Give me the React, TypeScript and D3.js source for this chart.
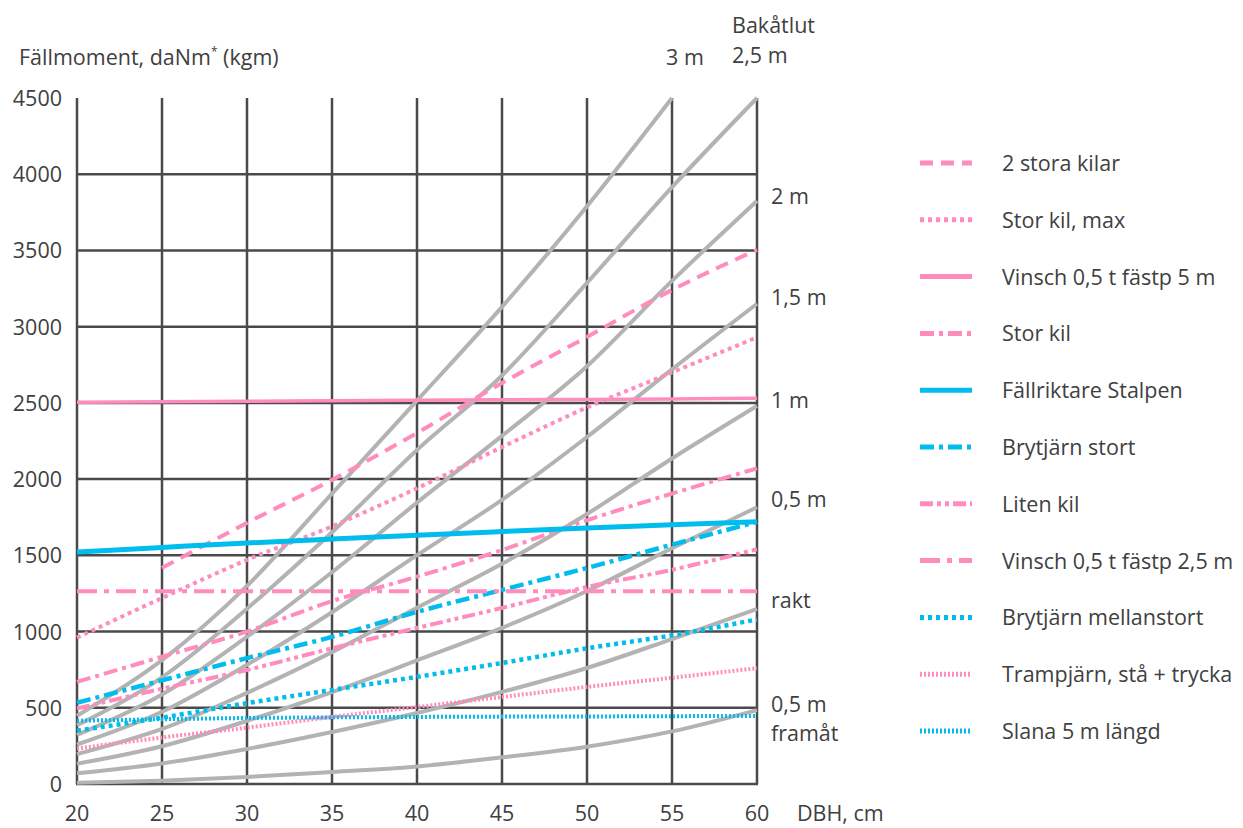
import React, { useEffect, useRef } from 'react';
import * as d3 from 'd3';

// DBH, cm
const dbh = [20, 25, 30, 35, 40, 45, 50, 55, 60];
const yTicks = [0, 500, 1000, 1500, 2000, 2500, 3000, 3500, 4000, 4500];

// grey curves: fällmoment för olika bakåtlut
const lutFramat05 = [8, 22, 46, 79, 115, 175, 245, 345, 485];
const lutRakt = [70, 135, 230, 341, 466, 604, 761, 951, 1148];
const lut05 = [133, 248, 414, 603, 811, 1024, 1266, 1546, 1815];
const lut10 = [196, 361, 598, 865, 1156, 1444, 1771, 2135, 2480];
const lut15 = [259, 474, 782, 1127, 1501, 1864, 2276, 2720, 3150];
const lut20 = [322, 587, 966, 1389, 1846, 2284, 2740, 3300, 3825];
const lut25 = [385, 700, 1150, 1651, 2191, 2680, 3287, 3915, 4500];
const lut30 = [448, 813, 1300, 1905, 2515, 3130, 3790, 4500];

// hjälpmedel
const tvaStoraKilar = [null, 1417, 1713, 1995, 2303, 2631, 2933, 3241, 3504];
const storKilMax = [960, 1220, 1470, 1690, 1940, 2210, 2470, 2700, 2930];
const vinsch5m = [2505, 2508, 2511, 2514, 2517, 2520, 2523, 2526, 2530];
const storKil = [670, 835, 1000, 1200, 1360, 1535, 1730, 1905, 2070];
const stalpen = [1522, 1552, 1581, 1607, 1632, 1656, 1680, 1700, 1720];
const brytjarnStort = [533, 680, 826, 965, 1129, 1273, 1417, 1570, 1720];
const litenKil = [495, 625, 748, 890, 1024, 1155, 1293, 1405, 1540];
const vinsch25m = [1265, 1265, 1265, 1265, 1265, 1265, 1265, 1265, 1265];
const brytjarnMellan = [350, 435, 530, 617, 703, 794, 890, 975, 1080];
const trampjarn = [233, 305, 370, 440, 505, 571, 637, 697, 760];
const slana = [415, 425, 433, 437, 440, 442, 443, 445, 446];

const greyCurves = [lutFramat05, lutRakt, lut05, lut10, lut15, lut20, lut25, lut30];

const PINK = '#ff8cbd';
const BLUE = '#00bdee';
const GREY = '#b3b3b3';
const GRID = '#4a4a4a';
const TEXT = '#404040';

const series = [
  { name: '2 stora kilar', values: tvaStoraKilar, color: PINK, dash: '13,8', width: 4 },
  { name: 'Stor kil, max', values: storKilMax, color: PINK, dash: '4,4', width: 4 },
  { name: 'Vinsch 0,5 t fästp 5 m', values: vinsch5m, color: PINK, dash: null, width: 3.5 },
  { name: 'Stor kil', values: storKil, color: PINK, dash: '14,5,4,5', width: 4 },
  { name: 'Fällriktare Stalpen', values: stalpen, color: BLUE, dash: null, width: 5 },
  { name: 'Brytjärn stort', values: brytjarnStort, color: BLUE, dash: '14,5,4,5', width: 4.5 },
  { name: 'Liten kil', values: litenKil, color: PINK, dash: '13,4,4,4,4,4', width: 4 },
  { name: 'Vinsch 0,5 t fästp 2,5 m', values: vinsch25m, color: PINK, dash: '20,7,5,7', width: 4 },
  { name: 'Brytjärn mellanstort', values: brytjarnMellan, color: BLUE, dash: '4,4', width: 4.5 },
  { name: 'Trampjärn, stå + trycka', values: trampjarn, color: PINK, dash: '2,2', width: 4 },
  { name: 'Slana 5 m längd', values: slana, color: BLUE, dash: '2,2', width: 4 },
];

const rightLabels = [
  { text: '2 m', y: 204 },
  { text: '1,5 m', y: 305 },
  { text: '1 m', y: 408 },
  { text: '0,5 m', y: 507 },
  { text: 'rakt', y: 608 },
  { text: '0,5 m', y: 712 },
  { text: 'framåt', y: 741 },
];

const App = () => {
  const svgRef = useRef(null);

  useEffect(() => {
    const svg = d3.select(svgRef.current);
    svg.selectAll('*').remove();

    const x = d3.scaleLinear().domain([20, 60]).range([77, 757]);
    const y = d3.scaleLinear().domain([0, 4500]).range([784, 98]);
    const font = '"Open Sans", Lato, sans-serif';
    const fs = '21.5px';

    // grid
    const grid = svg.append('g');
    grid.selectAll('line.v')
      .data(dbh)
      .enter()
      .append('line')
      .attr('x1', d => x(d)).attr('x2', d => x(d))
      .attr('y1', y(4500)).attr('y2', y(0))
      .attr('stroke', GRID).attr('stroke-width', 2.5);
    grid.selectAll('line.h')
      .data(yTicks.filter(d => d < 4500))
      .enter()
      .append('line')
      .attr('x1', x(20) - 1).attr('x2', x(60) + 1)
      .attr('y1', d => y(d)).attr('y2', d => y(d))
      .attr('stroke', GRID).attr('stroke-width', 2.5);

    // grey lean curves
    const line = d3.line()
      .defined(d => d[1] != null)
      .x(d => x(d[0]))
      .y(d => y(d[1]))
      .curve(d3.curveMonotoneX);

    svg.append('g')
      .selectAll('path')
      .data(greyCurves)
      .enter()
      .append('path')
      .attr('d', vals => line(vals.map((v, i) => [dbh[i], v])))
      .attr('fill', 'none')
      .attr('stroke', GREY)
      .attr('stroke-width', 4);

    // coloured series
    svg.append('g')
      .selectAll('path')
      .data(series)
      .enter()
      .append('path')
      .attr('d', s => line(s.values.map((v, i) => [dbh[i], v])))
      .attr('fill', 'none')
      .attr('stroke', s => s.color)
      .attr('stroke-width', s => s.width)
      .attr('stroke-dasharray', s => s.dash);

    const txt = sel => sel
      .style('font-family', font).style('font-size', fs).style('fill', TEXT);

    // y tick labels
    svg.append('g')
      .selectAll('text')
      .data(yTicks)
      .enter()
      .append('text')
      .attr('x', 62)
      .attr('y', d => y(d) + 8)
      .attr('text-anchor', 'end')
      .call(txt)
      .text(d => d);

    // x tick labels
    svg.append('g')
      .selectAll('text')
      .data(dbh)
      .enter()
      .append('text')
      .attr('x', d => x(d))
      .attr('y', 821)
      .attr('text-anchor', 'middle')
      .call(txt)
      .text(d => d);

    svg.append('text')
      .attr('x', 797).attr('y', 821)
      .call(txt)
      .text('DBH, cm');

    // title
    const title = svg.append('text')
      .attr('x', 19).attr('y', 65)
      .call(txt);
    title.append('tspan').text('Fällmoment, daNm');
    title.append('tspan').attr('dy', -9).style('font-size', '12px').text('*');
    title.append('tspan').attr('dy', 9).text(' (kgm)');

    svg.append('text').attr('x', 666).attr('y', 65).call(txt).text('3 m');
    svg.append('text').attr('x', 732).attr('y', 33).call(txt).text('Bakåtlut');
    svg.append('text').attr('x', 732).attr('y', 63).call(txt).text('2,5 m');

    svg.append('g')
      .selectAll('text')
      .data(rightLabels)
      .enter()
      .append('text')
      .attr('x', 771)
      .attr('y', d => d.y)
      .call(txt)
      .text(d => d.text);

    // legend
    const legend = svg.append('g')
      .selectAll('g')
      .data(series)
      .enter()
      .append('g')
      .attr('transform', (d, i) => `translate(920, ${163 + i * 56.8})`);
    legend.append('line')
      .attr('x1', 0).attr('x2', 52)
      .attr('y1', 0).attr('y2', 0)
      .attr('stroke', d => d.color)
      .attr('stroke-width', 5)
      .attr('stroke-dasharray', d => d.dash);
    legend.append('text')
      .attr('x', 82).attr('y', 8)
      .call(txt)
      .text(d => d.name);
  }, []);

  return (
    <svg
      ref={svgRef}
      width={1243}
      height={828}
      style={{ position: 'absolute', left: 0, top: 0, background: '#fff' }}
    />
  );
};

export default App;
